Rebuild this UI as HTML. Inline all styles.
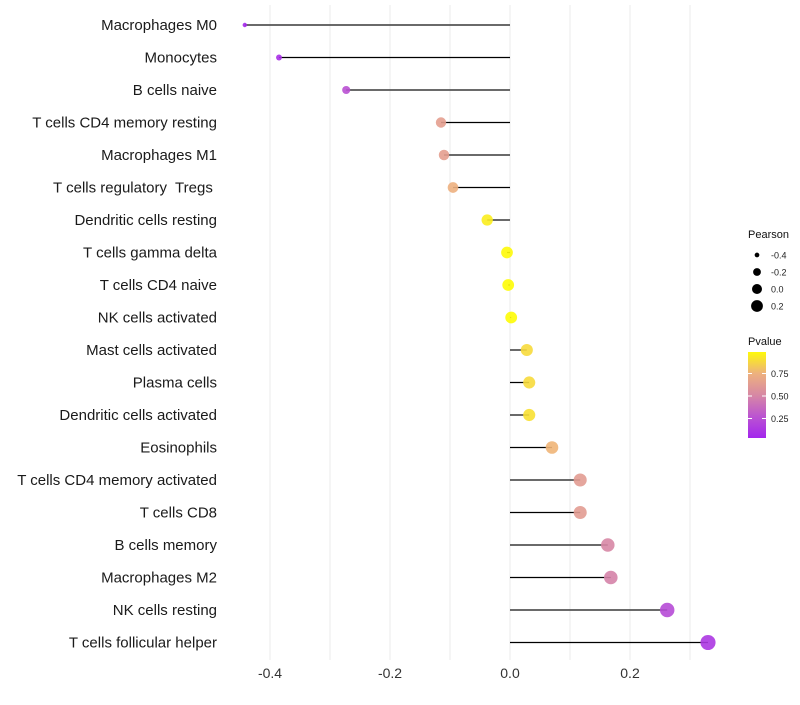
<!DOCTYPE html>
<html><head><meta charset="utf-8"><style>
body{margin:0;background:#fff;font-family:"Liberation Sans",sans-serif}
text{white-space:pre}
</style></head><body>
<svg id="chart" width="800" height="700" xmlns="http://www.w3.org/2000/svg" font-family="Liberation Sans, sans-serif"></svg>
<script>
const categories=["Macrophages M0","Monocytes","B cells naive","T cells CD4 memory resting","Macrophages M1","T cells regulatory  Tregs ","Dendritic cells resting","T cells gamma delta","T cells CD4 naive","NK cells activated","Mast cells activated","Plasma cells","Dendritic cells activated","Eosinophils","T cells CD4 memory activated","T cells CD8","B cells memory","Macrophages M2","NK cells resting","T cells follicular helper"];
const pearson=[-0.442,-0.385,-0.273,-0.115,-0.11,-0.095,-0.038,-0.005,-0.003,0.002,0.028,0.032,0.032,0.07,0.117,0.117,0.163,0.168,0.262,0.33];
const pvalue=[0.04,0.08,0.25,0.64,0.64,0.74,0.94,0.98,0.99,0.99,0.88,0.88,0.9,0.76,0.62,0.62,0.5,0.48,0.22,0.12];
const xTicks=[-0.4,-0.2,0.0,0.2];
const sizeLegend=[-0.4,-0.2,0.0,0.2];
const pLegend=[0.25,0.5,0.75];
const NS="http://www.w3.org/2000/svg";
const svg=document.getElementById('chart');
const x=v=>510+600*v;
const y=i=>25+i*32.5;
const r=v=>Math.sqrt(5+52*(v+0.44)/0.77);
const pY=p=>396-(p-0.5)*90;
const cStops=[[0,[160,32,240]],[0.3,[190,90,205]],[0.5,[215,135,165]],[0.75,[238,178,125]],[1,[255,255,0]]];
function col(p){for(let k=1;k<cStops.length;k++){if(p<=cStops[k][0]){const [p0,a]=cStops[k-1],[p1,b]=cStops[k];const t=(p-p0)/(p1-p0);return `rgb(${a.map((c,j)=>Math.round(c+(b[j]-c)*t)).join(',')})`;}}return 'rgb(255,255,0)';}
function el(t,at,parent){const e=document.createElementNS(NS,t);for(const k in at)e.setAttribute(k,at[k]);(parent||svg).appendChild(e);return e;}
for(let v=-0.4;v<=0.31;v+=0.1){
 const g=el('line',{x1:x(v),x2:x(v),y1:5,y2:660,stroke:'#ebebeb','stroke-width':1});
 
 
}
xTicks.forEach(t=>{
 const tx=el('text',{x:x(t),y:678,'text-anchor':'middle','font-size':14,fill:'#333'});
 tx.textContent=t.toFixed(1);
 
 
});
categories.forEach((c,i)=>{
 const lb=el('text',{x:217,y:y(i)+5,'text-anchor':'end','font-size':15,fill:'#1a1a1a'});
 lb.textContent=c;
 
 
 const ln=el('line',{x1:x(0),x2:x(pearson[i]),y1:y(i),y2:y(i),stroke:i%2?'#000':'#555','stroke-width':i%2?1.2:1.8});
 
 
 const d=el('circle',{cx:x(pearson[i]),cy:y(i),r:r(pearson[i]),fill:col(pvalue[i]),'fill-opacity':0.9});
 
 
});
const t1=el('text',{x:748,y:238,'font-size':11,fill:'#111'});t1.textContent='Pearson';


sizeLegend.forEach((v,k)=>{
 const yy=255+k*17;
 const c=el('circle',{cx:757,cy:yy,r:r(v)*0.85,fill:'#000'});
 
 
 const t=el('text',{x:771,y:yy+3.5,'font-size':9,fill:'#222'});t.textContent=v.toFixed(1);
 
 
});
const t2=el('text',{x:748,y:345,'font-size':11,fill:'#111'});t2.textContent='Pvalue';


const defs=el('defs',{});
const lg=el('linearGradient',{id:'pg',x1:0,y1:1,x2:0,y2:0},defs);
[0,0.25,0.5,0.75,1].forEach(o=>el('stop',{offset:o,'stop-color':col(0.03+o*0.95)},lg));
const bar=el('rect',{x:748,y:352,width:18,height:86,fill:'url(#pg)'});


pLegend.forEach(p=>{
 el('line',{x1:748,x2:752,y1:pY(p),y2:pY(p),stroke:'#fff'});
 el('line',{x1:762,x2:766,y1:pY(p),y2:pY(p),stroke:'#fff'});
 const t=el('text',{x:771,y:pY(p)+3.5,'font-size':9,fill:'#222'});t.textContent=p.toFixed(2);
 
 
});
</script>
</body></html>
